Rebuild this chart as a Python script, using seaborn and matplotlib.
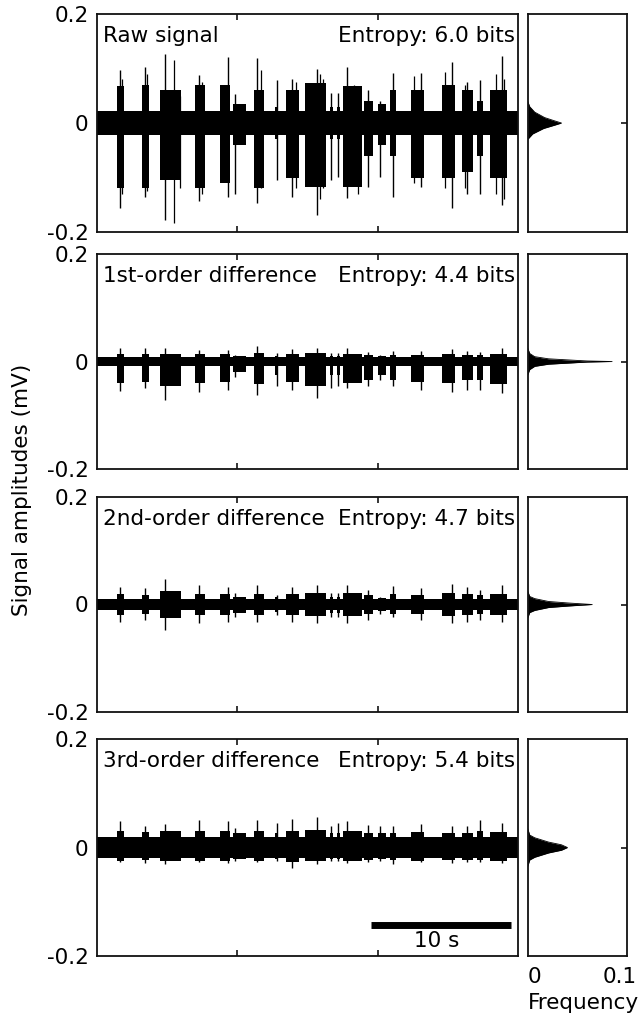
import matplotlib

matplotlib.use("Agg")
import matplotlib.pyplot as plt
import matplotlib.transforms as mtransforms
import numpy as np
import seaborn as sns

# burst timing, shared by the raw trace and its differences (s)
BURST_START = [1.4, 3.2, 4.5, 7.0, 8.8, 9.7, 11.2, 12.7, 13.5, 14.8, 16.6,
               17.1, 17.5, 19.0, 20.0, 20.9, 22.4, 24.6, 26.0, 27.1, 28.0]
BURST_END = [1.9, 3.7, 6.0, 7.7, 9.5, 10.6, 11.9, 12.9, 14.4, 16.3, 16.8,
             17.3, 18.9, 19.7, 20.6, 21.3, 23.3, 25.5, 26.8, 27.5, 29.2]
BURST_PEAK = [1.65, 3.42, 4.85, 7.3, 9.3, 9.8, 11.4, 12.8, 13.9, 15.66, 16.7,
              17.2, 17.8, 19.3, 20.2, 21.1, 23.1, 25.3, 26.4, 27.3, 28.85]

# raw signal (mV)
RAW_NOISE = 0.022
RAW_CORE_TOP = [0.067, 0.07, 0.06, 0.07, 0.07, 0.035, 0.06, 0.03, 0.06, 0.073, 0.03,
                0.03, 0.067, 0.04, 0.035, 0.06, 0.06, 0.07, 0.06, 0.04, 0.06]
RAW_CORE_BOT = [-0.12, -0.12, -0.105, -0.12, -0.11, -0.04, -0.12, -0.03, -0.10, -0.117, -0.03,
                -0.03, -0.117, -0.06, -0.04, -0.06, -0.10, -0.10, -0.09, -0.06, -0.10]
RAW_SPIKE_TOP = [0.097, 0.103, 0.127, 0.088, 0.122, 0.054, 0.119, 0.079, 0.08, 0.10, 0.055,
                 0.055, 0.103, 0.06, 0.04, 0.092, 0.092, 0.112, 0.075, 0.079, 0.123]
RAW_SPIKE_BOT = [-0.156, -0.135, -0.178, -0.144, -0.135, -0.13, -0.147, -0.105, -0.135, -0.169, -0.105,
                 -0.10, -0.138, -0.117, -0.10, -0.135, -0.117, -0.156, -0.13, -0.13, -0.15]
RAW_EXTRA_T = [1.8, 3.55, 5.5, 5.9, 7.5, 11.7, 14.2, 15.9, 16.1, 18.3, 18.6, 22.6, 24.8, 26.2, 28.4, 29.0]
RAW_EXTRA_TOP = [0.08, 0.09, 0.116, 0.05, 0.075, 0.097, 0.075, 0.09, 0.08, 0.07, 0.065, 0.086, 0.093,
                 0.07, 0.09, 0.08]
RAW_EXTRA_BOT = [-0.13, -0.125, -0.184, -0.12, -0.13, -0.12, -0.12, -0.14, -0.12, -0.11, -0.13, -0.11,
                 -0.12, -0.12, -0.13, -0.14]

# 1st-order difference
D1_NOISE = 0.008
D1_CORE_TOP = [0.014, 0.014, 0.014, 0.014, 0.014, 0.01, 0.015, 0.01, 0.014, 0.015, 0.01,
               0.01, 0.014, 0.012, 0.01, 0.012, 0.012, 0.014, 0.012, 0.012, 0.014]
D1_CORE_BOT = [-0.04, -0.038, -0.045, -0.04, -0.038, -0.02, -0.042, -0.025, -0.038, -0.045, -0.025,
               -0.025, -0.04, -0.035, -0.025, -0.035, -0.038, -0.04, -0.035, -0.035, -0.042]
D1_SPIKE_TOP = [0.025, 0.025, 0.025, 0.022, 0.022, 0.012, 0.028, 0.015, 0.023, 0.025, 0.015,
                0.015, 0.025, 0.018, 0.012, 0.02, 0.02, 0.023, 0.02, 0.018, 0.025]
D1_SPIKE_BOT = [-0.055, -0.05, -0.072, -0.056, -0.053, -0.028, -0.062, -0.046, -0.053, -0.068, -0.05,
                -0.045, -0.05, -0.046, -0.034, -0.046, -0.053, -0.056, -0.053, -0.053, -0.059]

# 2nd-order difference
D2_NOISE = 0.010
D2_CORE_TOP = [0.02, 0.018, 0.025, 0.02, 0.02, 0.014, 0.02, 0.014, 0.02, 0.022, 0.014,
               0.014, 0.022, 0.018, 0.013, 0.02, 0.018, 0.022, 0.02, 0.018, 0.02]
D2_CORE_BOT = [-0.02, -0.018, -0.025, -0.02, -0.02, -0.015, -0.02, -0.014, -0.02, -0.022, -0.015,
               -0.015, -0.022, -0.018, -0.013, -0.018, -0.018, -0.022, -0.02, -0.018, -0.02]
D2_SPIKE_TOP = [0.032, 0.030, 0.047, 0.036, 0.033, 0.021, 0.036, 0.017, 0.033, 0.036, 0.021,
                0.021, 0.036, 0.027, 0.014, 0.034, 0.030, 0.039, 0.033, 0.027, 0.036]
D2_SPIKE_BOT = [-0.032, -0.029, -0.047, -0.035, -0.032, -0.023, -0.032, -0.02, -0.032, -0.035, -0.023,
                -0.023, -0.035, -0.029, -0.017, -0.023, -0.029, -0.034, -0.032, -0.029, -0.032]

# 3rd-order difference
D3_NOISE = 0.020
D3_CORE_TOP = [0.03, 0.028, 0.03, 0.03, 0.03, 0.026, 0.03, 0.027, 0.03, 0.032, 0.027,
               0.027, 0.03, 0.027, 0.026, 0.027, 0.028, 0.027, 0.027, 0.03, 0.028]
D3_CORE_BOT = [-0.024, -0.023, -0.025, -0.024, -0.024, -0.022, -0.024, -0.022, -0.026, -0.025, -0.022,
               -0.022, -0.025, -0.023, -0.022, -0.023, -0.024, -0.023, -0.023, -0.023, -0.024]
D3_SPIKE_TOP = [0.048, 0.04, 0.044, 0.051, 0.048, 0.036, 0.051, 0.045, 0.052, 0.056, 0.039,
                0.045, 0.049, 0.042, 0.039, 0.039, 0.044, 0.039, 0.039, 0.05, 0.045]
D3_SPIKE_BOT = [-0.026, -0.028, -0.03, -0.026, -0.028, -0.025, -0.026, -0.025, -0.038, -0.03, -0.025,
                -0.025, -0.029, -0.026, -0.025, -0.03, -0.026, -0.028, -0.026, -0.026, -0.029]

# amplitude histograms (amplitude in mV -> relative frequency)
HIST_AMP_RAW = [-0.03, -0.02, -0.01, -0.004, 0.0, 0.004, 0.01, 0.02, 0.03, 0.04]
HIST_FREQ_RAW = [0.0, 0.005, 0.016, 0.027, 0.034, 0.027, 0.017, 0.007, 0.002, 0.0]
HIST_AMP_D1 = [-0.025, -0.015, -0.009, -0.005, -0.002, -0.001, 0.0, 0.001, 0.002, 0.005, 0.009, 0.015, 0.025]
HIST_FREQ_D1 = [0.0, 0.002, 0.007, 0.021, 0.05, 0.06, 0.085, 0.06, 0.05, 0.021, 0.007, 0.002, 0.0]
HIST_AMP_D2 = [-0.025, -0.015, -0.011, -0.0056, -0.0028, 0.0, 0.0028, 0.0056, 0.011, 0.015, 0.025]
HIST_FREQ_D2 = [0.0, 0.002, 0.007, 0.021, 0.041, 0.065, 0.041, 0.021, 0.007, 0.002, 0.0]
HIST_AMP_D3 = [-0.035, -0.023, -0.018, -0.01, -0.005, 0.0, 0.005, 0.01, 0.018, 0.023, 0.035]
HIST_FREQ_D3 = [0.0, 0.002, 0.007, 0.021, 0.034, 0.040, 0.034, 0.021, 0.007, 0.002, 0.0]

PANEL_TITLES = ["Raw signal", "1st-order difference", "2nd-order difference", "3rd-order difference"]
ENTROPY_BITS = [6.0, 4.4, 4.7, 5.4]

DURATION = 30.0

sns.set_style("ticks")
plt.rcParams["font.family"] = ["DejaVu Sans"]
plt.rcParams["font.size"] = 15.5
plt.rcParams["axes.linewidth"] = 1.3
plt.rcParams["axes.edgecolor"] = "#111111"
for key in ("text.color", "axes.labelcolor", "xtick.color", "ytick.color"):
    plt.rcParams[key] = "black"


def draw_trace(ax, noise, core_top, core_bot, spike_top, spike_bot, extra=None):
    ax.fill_between([0, DURATION], -noise, noise, color="black", lw=0)
    for t0, t1, top, bot in zip(BURST_START, BURST_END, core_top, core_bot):
        ax.fill_between([t0, t1], bot, top, color="black", lw=0)
    ax.vlines(BURST_PEAK, spike_bot, spike_top, color="black", lw=1.0)
    if extra is not None:
        ax.vlines(*extra, color="black", lw=0.9)


def draw_hist(ax, amp, freq):
    ax.fill_betweenx(amp, 0, freq, color="black", lw=0)
    sns.lineplot(x=freq, y=amp, orient="y", color="black", lw=0.6, ax=ax)


traces = [
    (RAW_NOISE, RAW_CORE_TOP, RAW_CORE_BOT, RAW_SPIKE_TOP, RAW_SPIKE_BOT,
     (RAW_EXTRA_T, RAW_EXTRA_BOT, RAW_EXTRA_TOP)),
    (D1_NOISE, D1_CORE_TOP, D1_CORE_BOT, D1_SPIKE_TOP, D1_SPIKE_BOT, None),
    (D2_NOISE, D2_CORE_TOP, D2_CORE_BOT, D2_SPIKE_TOP, D2_SPIKE_BOT, None),
    (D3_NOISE, D3_CORE_TOP, D3_CORE_BOT, D3_SPIKE_TOP, D3_SPIKE_BOT, None),
]
hists = [(HIST_AMP_RAW, HIST_FREQ_RAW), (HIST_AMP_D1, HIST_FREQ_D1),
         (HIST_AMP_D2, HIST_FREQ_D2), (HIST_AMP_D3, HIST_FREQ_D3)]

W, H = 640, 1019
fig = plt.figure(figsize=(W / 100, H / 100), dpi=100)

# panel extents in pixels (top, bottom)
panel_px = [(14, 232), (254, 469), (497, 712), (739, 956)]

for i, ((top, bot), trace, hist) in enumerate(zip(panel_px, traces, hists)):
    y0 = 1 - bot / H
    h = (bot - top) / H
    ax = fig.add_axes([97 / W, y0, (518 - 97) / W, h])
    hx = fig.add_axes([527.7 / W, y0, (627 - 527.7) / W, h])

    draw_trace(ax, *trace)
    ax.set_xlim(0, DURATION)
    ax.set_ylim(-0.2, 0.2)
    ax.set_yticks([-0.2, 0, 0.2])
    ax.set_yticklabels(["-0.2", "0", "0.2"])
    ax.set_xticks([10, 20])
    ax.set_xticklabels([])
    ax.tick_params(axis="x", direction="in", length=4, width=1.1, top=True, bottom=True)
    ax.tick_params(axis="y", length=0, pad=6)

    ax.annotate(PANEL_TITLES[i], xy=(0, 1), xycoords="axes fraction",
                xytext=(4, -20.5), textcoords="offset points", ha="left", va="baseline")
    ax.annotate(f"Entropy: {ENTROPY_BITS[i]:.1f} bits", xy=(1, 1), xycoords="axes fraction",
                xytext=(-2, -20.5), textcoords="offset points", ha="right", va="baseline")

    draw_hist(hx, *hist)
    hx.set_xlim(0, 0.1)
    hx.set_ylim(-0.2, 0.2)
    hx.set_yticks([0])
    hx.yaxis.tick_right()
    hx.tick_params(axis="y", direction="in", length=4.5, width=1.1, labelright=False)
    hx.set_xlabel("")
    hx.set_ylabel("")
    if i == 3:
        hx.set_xticks([0, 0.1])
        hx.set_xticklabels(["0", "0.1"])
        hx.tick_params(axis="x", length=0, pad=8)
        # nudge the two labels inward, as in the original layout
        for label, dx in zip(hx.get_xticklabels(), (4.5, -5.0)):
            shift = mtransforms.ScaledTranslation(dx / 72, 0, fig.dpi_scale_trans)
            label.set_transform(label.get_transform() + shift)
        hx.set_xlabel("Frequency")
        hx.xaxis.set_label_coords(0.56, -0.217)
        hx.xaxis.label.set_va("center")
        # 10 s scale bar
        ax.plot([19.5, 29.5], [-0.143, -0.143], color="black", lw=5, solid_capstyle="butt")
        ax.text(24.2, -0.172, "10 s", ha="center", va="center")
    else:
        hx.set_xticks([])

fig.text(22 / W, 1 - 490 / H, "Signal amplitudes (mV)", rotation=90, ha="center", va="center")

fig.savefig("out.png", dpi=100)
